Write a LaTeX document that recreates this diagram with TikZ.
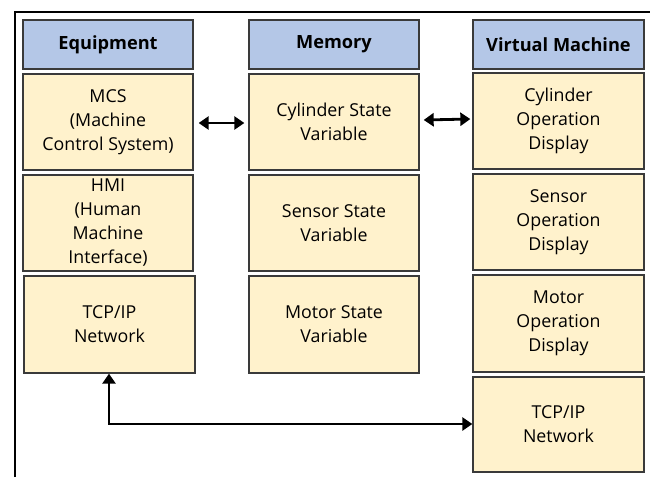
\documentclass[tikz,border=0pt]{standalone}
\usepackage{fontspec}
\setmainfont{Open Sans}
\usetikzlibrary{arrows.meta}
\definecolor{headblue}{HTML}{B4C7E7}
\definecolor{cellgold}{HTML}{FFF2CC}
\definecolor{edgegray}{HTML}{3A3A3A}
\tikzset{
  headbox/.style={draw=edgegray, line width=1.3pt, fill=headblue, inner sep=0pt,
    font=\fontsize{18.2}{22}\selectfont\bfseries, align=center},
  cellbox/.style={draw=edgegray, line width=1.3pt, fill=cellgold, inner sep=0pt,
    font=\fontsize{17.8}{24}\selectfont, align=center},
  link/.style={line width=2.8pt, black, {Triangle[length=10pt,width=13pt]}-{Triangle[length=10pt,width=13pt]}},
}
% place a box by its corners (x1,y1)-(x2,y2), measured from the top left
\newcommand{\cellat}[7]{%
  \node[#2, minimum width={(#5-#3)*1pt}, minimum height={(#6-#4)*1pt}]
    (#1) at ({(#3+#5)/2},{-(#4+#6)/2}) {#7};}
\begin{document}
\begin{tikzpicture}[x=1pt,y=1pt]
\useasboundingbox (0,0) rectangle (650,-477);
% outer frame (only its top and left sides lie inside the page)
\draw[line width=2.2pt, black] (15,-477) -- (15,-12) -- (650,-12);

% column: Equipment
\cellat{eqh}{headbox}{23}{20}{193}{69}{Equipment}
\cellat{mcs}{cellbox}{23}{74}{193}{170}{MCS\\(Machine\\Control System)}
\cellat{hmi}{cellbox}{23}{175}{193}{271}{HMI\\(Human\\Machine\\Interface)}
\cellat{tcpa}{cellbox}{24}{276}{195}{373}{TCP/IP\\Network}

% column: Memory
\cellat{memh}{headbox}{249}{20}{419}{69}{Memory}
\cellat{cyls}{cellbox}{249}{74}{419}{170}{Cylinder State\\Variable}
\cellat{sens}{cellbox}{249}{175}{419}{271}{Sensor State\\Variable}
\cellat{mots}{cellbox}{249}{276}{419}{373}{Motor State\\Variable}

% column: Virtual Machine
\cellat{vmh}{headbox}{473}{20}{644}{69}{Virtual Machine}
\cellat{cylo}{cellbox}{473}{73}{644}{169}{Cylinder\\Operation\\Display}
\cellat{seno}{cellbox}{473}{174}{644}{270}{Sensor\\Operation\\Display}
\cellat{moto}{cellbox}{473}{275}{644}{372}{Motor\\Operation\\Display}
\cellat{tcpb}{cellbox}{473}{377}{644}{472}{TCP/IP\\Network}

% connectors
\draw[link] ([xshift=5pt,yshift=-1pt]mcs.east) -- ([xshift=-4pt,yshift=-1pt]cyls.west);
\draw[link] ([xshift=4pt,yshift=2pt]cyls.east) -- ([xshift=-2pt,yshift=2pt]cylo.west);
\coordinate (bend) at (109,-424);
\draw[link] (tcpb.west |- bend) -- (bend) -- (bend |- tcpa.south);
\end{tikzpicture}
\end{document}
